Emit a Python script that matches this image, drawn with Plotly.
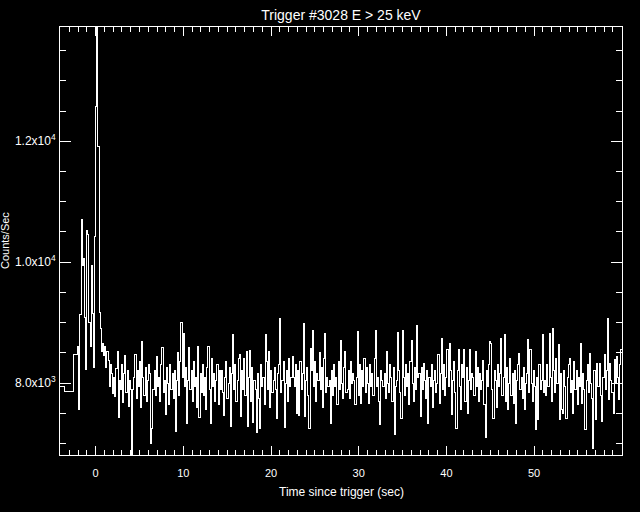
import numpy as np
import plotly.graph_objects as go

# ---- data ----
title_text = "Trigger #3028 E > 25 keV"
x_title = "Time since trigger (sec)"
y_title = "Counts/Sec"

# 1.024 s pre-trigger bins (start time of first bin, bin width) and their rates
pre_start = -4.608
pre_bin = 1.024
pre_counts = [7945, 7860, 8468]

# fine-resolution bins from -2.048 s onward
fine_start = -2.048
fine_bin = 0.128
fine_counts = [
    8600, 7570, 9130, 10700, 9950, 10060, 9090, 8220, 10530, 10450, 9000, 8600, 9950, 9150, 8250, 10420,
    12570, 14500, 11910, 9160, 8910, 8530, 8660, 8450, 8600, 8250, 8520, 8380, 7950, 8300, 8150, 7820,
    8100, 7780, 8240, 8520, 7430, 8050, 7900, 8300, 7680, 8150, 8460, 7850, 8200, 7620, 8050, 7900,
    6750, 7900, 8100, 8470, 7750, 8200, 7950, 8350, 7600, 8694, 8100, 7800, 8250, 7700, 8050, 8300,
    8150, 7008, 7250, 7900, 8200, 7800, 8440, 7950, 8100, 7700, 8300, 8594, 7850, 8050, 7480, 8250,
    8000, 7650, 8300, 7900, 8150, 7750, 8200, 7200, 8050, 8500, 7800, 8350, 9008, 8100, 8813, 7950,
    8250, 7338, 8050, 8594, 7900, 8200, 7700, 8350, 7950, 8100, 7600, 8606, 7430, 8150, 7850, 8300,
    7800, 8100, 7560, 8250, 8606, 7900, 7338, 8400, 7950, 8150, 7700, 8050, 8300, 7650, 8200, 7900,
    8200, 7850, 7460, 8100, 8350, 7750, 8000, 8250, 7283, 8150, 8798, 7900, 8300, 7700, 8050, 8400,
    8470, 7449, 8200, 7900, 8413, 7800, 8523, 7283, 8100, 8540, 7700, 8250, 7350, 8050, 7900, 7180,
    8150, 7750, 7250, 8300, 7950, 8100, 7650, 8798, 8350, 7900, 8523, 7600, 8200, 7850, 8050, 8250,
    7900, 7421, 8150, 8300, 9063, 7850, 8050, 8350, 7260, 8000, 8200, 7700, 8400, 7950, 8100, 8440,
    8100, 7950, 8300, 7504, 8200, 7460, 8350, 7900, 8150, 8980, 7449, 8050, 8250, 7800, 7256, 8580,
    8200, 8865, 7950, 8350, 7700, 8150, 8050, 8500, 7900, 8250, 7600, 8400, 8826, 7850, 8100, 7950,
    8050, 7338, 8200, 7800, 8300, 7950, 8100, 7650, 8350, 7900, 8700, 8000, 7750, 8250, 8523, 7850,
    7900, 8200, 7750, 8350, 8000, 8150, 8050, 7641, 8100, 8850, 7800, 8300, 7669, 8200, 7950, 8400,
    7850, 8250, 8000, 7669, 8300, 7950, 8150, 7800, 8400, 8865, 7950, 8100, 7700, 7311, 8200, 8050,
    7950, 8150, 7750, 8523, 8000, 7850, 8300, 8100, 7700, 8250, 7146, 7950, 8050, 8843, 8200, 7850,
    7420, 8865, 8100, 7800, 8300, 7950, 8150, 7650, 8350, 8700, 8000, 7700, 8250, 7900, 8953, 8100,
    8150, 7449, 8250, 7900, 8330, 8050, 7750, 8200, 7338, 8100, 7950, 8300, 7600, 8050, 8200, 7850,
    8000, 8465, 7669, 8150, 8732, 7900, 8300, 7800, 8100, 8560, 7950, 8660, 8200, 7476, 8050, 8350,
    7850, 7256, 8200, 8560, 7950, 7560, 8300, 8100, 8560, 7700, 8250, 7500, 8050, 8560, 7900, 8150,
    8100, 7800, 8523, 7950, 8250, 7700, 8150, 7900, 8050, 8370, 7650, 7107, 8200, 7950, 8300, 8688,
    8660, 7900, 7421, 8200, 8050, 7600, 8300, 7950, 8150, 8743, 7800, 8100, 8798, 7700, 8250, 7560,
    8000, 8400, 7800, 8150, 7669, 8200, 7338, 8050, 8300, 8495, 7900, 8100, 7750, 8250, 7560, 8000,
    8150, 8727, 7850, 8550, 8000, 7700, 8200, 7950, 7228, 8100, 7390, 8300, 7900, 8050, 8798, 7850,
    8050, 7800, 8300, 7950, 8826, 8100, 7700, 8898, 8200, 7850, 8400, 8000, 8633, 7393, 8150, 7560,
    7490, 8200, 7950, 7410, 8100, 8300, 8413, 7850, 8050, 7500, 8360, 7900, 8200, 7650, 8100, 7950,
    8650, 7670, 8150, 7900, 7228, 8050, 8300, 7850, 8495, 8000, 7750, 6925, 8200, 7393, 8330, 7950,
    7950, 8330, 7800, 7370, 8100, 8470, 7900, 8200, 9063, 7720, 8330, 8050, 7850, 7504, 8385, 8000,
    8440, 8100, 7720, 8300, 8560,
]

x_tick_vals = [0, 10, 20, 30, 40, 50]
x_tick_text = ["0", "10", "20", "30", "40", "50"]
y_tick_vals = [8000, 10000, 12000]
y_tick_text = ["8.0x10<sup>3</sup>", "1.0x10<sup>4</sup>", "1.2x10<sup>4</sup>"]

x_range = [-4.07, 60.03]
y_range = [6810, 13890]

# ---- build step curve ----
pre_t = pre_start + pre_bin * np.arange(len(pre_counts))
fine_t = fine_start + fine_bin * np.arange(len(fine_counts))
t = np.concatenate([pre_t, fine_t, [fine_t[-1] + fine_bin]])
rate = np.concatenate([pre_counts, fine_counts, [fine_counts[-1]]])

FONT = "Liberation Sans"
W = "white"

fig = go.Figure()
fig.add_trace(go.Scatter(
    x=t, y=rate, mode="lines", line=dict(color=W, width=1, shape="hv"),
    hoverinfo="skip", showlegend=False,
))

axis_common = dict(
    showline=True, linecolor=W, linewidth=1, mirror="ticks",
    showgrid=False, zeroline=False, ticks="inside", tickcolor=W, tickwidth=1,
)

fig.update_layout(
    width=640, height=512,
    paper_bgcolor="black", plot_bgcolor="black",
    margin=dict(l=60, r=18, t=27, b=57),
    hovermode=False,
    title=dict(text=title_text, x=341 / 640, y=1 - 15 / 512,
               xanchor="center", yanchor="middle",
               font=dict(family=FONT, size=14, color=W)),
    xaxis=dict(range=x_range, tickmode="array", tickvals=x_tick_vals, ticktext=x_tick_text,
               ticklen=9, ticklabelstandoff=8,
               tickfont=dict(family=FONT, size=11, color=W),
               minor=dict(tickmode="linear", tick0=0, dtick=1, ticklen=5, ticks="inside",
                          tickcolor=W, tickwidth=1, showgrid=False),
               **axis_common),
    yaxis=dict(range=y_range, tickmode="array", tickvals=y_tick_vals, ticktext=y_tick_text,
               ticklen=11, ticklabelstandoff=1,
               tickfont=dict(family=FONT, size=12, color=W),
               minor=dict(tickmode="linear", tick0=0, dtick=500, ticklen=6, ticks="inside",
                          tickcolor=W, tickwidth=1, showgrid=False),
               **axis_common),
    annotations=[
        dict(text=x_title, xref="paper", yref="paper", x=0.5, y=(455 - 492) / 428,
             xanchor="center", yanchor="middle", showarrow=False,
             font=dict(family=FONT, size=12, color=W)),
        dict(text=y_title, xref="paper", yref="paper", x=(5 - 60) / 562, y=0.5,
             xanchor="center", yanchor="middle", textangle=-90, showarrow=False,
             font=dict(family=FONT, size=11, color=W)),
    ],
)

post_js = (
    "document.body.style.margin='0';"
    "document.body.style.background='black';"
    "document.querySelectorAll('.scatterlayer path, .xaxislayer-above path, "
    ".yaxislayer-above path, .xlines-above, .ylines-above')"
    ".forEach(function(p){p.style.shapeRendering='crispEdges';});"
)
fig.write_html("out.html", post_script=post_js,
               config={"displayModeBar": False, "staticPlot": True})
